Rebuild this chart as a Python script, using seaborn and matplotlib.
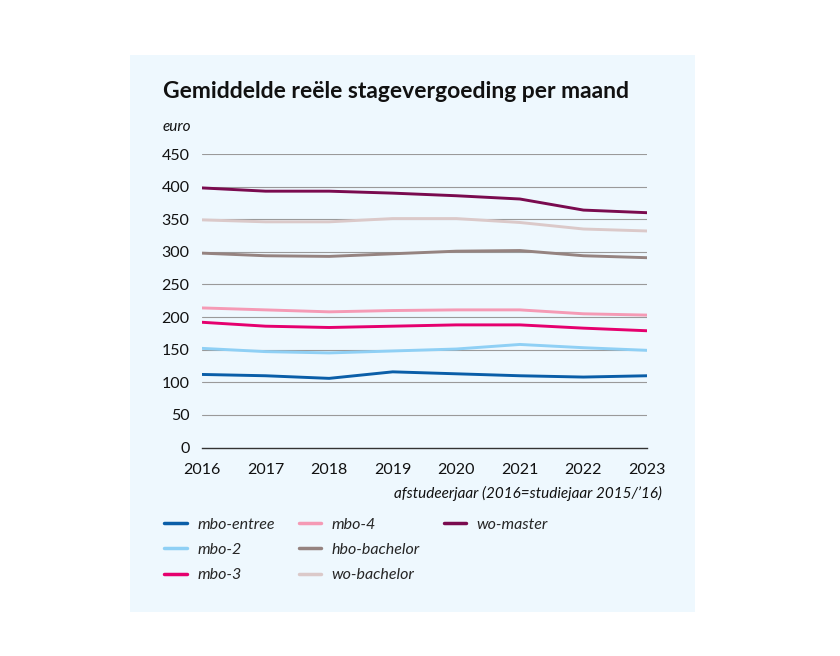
import matplotlib.pyplot as plt
import seaborn as sns
import pandas as pd

sns.set_theme(style="white")
plt.rcParams["font.family"] = ["Lato", "DejaVu Sans"]

years = [2016, 2017, 2018, 2019, 2020, 2021, 2022, 2023]

mbo_entree = [112, 110, 106, 116, 113, 110, 108, 110]
mbo_2 = [152, 147, 145, 148, 151, 158, 153, 149]
mbo_3 = [192, 186, 184, 186, 188, 188, 183, 179]
mbo_4 = [214, 211, 208, 210, 211, 211, 205, 203]
hbo_bachelor = [298, 294, 293, 297, 301, 302, 294, 291]
wo_bachelor = [349, 346, 346, 351, 351, 345, 335, 332]
wo_master = [398, 393, 393, 390, 386, 381, 364, 360]

series = {
    "mbo-entree": mbo_entree,
    "mbo-2": mbo_2,
    "mbo-3": mbo_3,
    "mbo-4": mbo_4,
    "hbo-bachelor": hbo_bachelor,
    "wo-bachelor": wo_bachelor,
    "wo-master": wo_master,
}

colors = {
    "mbo-entree": "#0a5ea8",
    "mbo-2": "#8fd0f5",
    "mbo-3": "#e5006e",
    "mbo-4": "#f59ab5",
    "hbo-bachelor": "#958380",
    "wo-bachelor": "#dbc9c9",
    "wo-master": "#7a0b4f",
}

rows = []
for name, vals in series.items():
    for y, v in zip(years, vals):
        rows.append({"jaar": y, "euro": v, "groep": name})
df = pd.DataFrame(rows)

fig = plt.figure(figsize=(8.4, 6.56), dpi=100)
fig.patch.set_facecolor("white")

# light blue panel behind the chart
bg = fig.add_axes([130 / 840, 1 - 612 / 656, 565 / 840, 557 / 656], zorder=-1)
bg.set_facecolor("#eef8fe")
bg.set_xticks([])
bg.set_yticks([])
for s in bg.spines.values():
    s.set_visible(False)

ax = fig.add_axes([202 / 840, 1 - 447.5 / 656, 445 / 840, 293.5 / 656])
ax.set_facecolor("none")

for val in range(50, 451, 50):
    ax.axhline(val, color="#9a9a9a", lw=0.8, zorder=1)

sns.lineplot(data=df, x="jaar", y="euro", hue="groep", palette=colors,
             hue_order=list(series.keys()), linewidth=2.1, ax=ax,
             legend=False, zorder=3)
for line in ax.lines:
    line.set_solid_joinstyle("round")
    line.set_solid_capstyle("round")

ax.set_xlim(2016, 2023)
ax.set_ylim(0, 450)
ax.set_xticks(years)
ax.set_yticks(range(0, 451, 50))
ax.set_xlabel("")
ax.set_ylabel("")
for s in ["top", "right", "left"]:
    ax.spines[s].set_visible(False)
ax.spines["bottom"].set_color("#333333")
ax.spines["bottom"].set_linewidth(1.0)
ax.tick_params(axis="x", direction="out", length=7, width=0.8,
               color="#333333", labelsize=11.5, pad=4, labelcolor="#111111")
ax.tick_params(axis="y", length=0, labelsize=11.5, pad=9, labelcolor="#111111")

fig.text(163 / 840, 1 - 92 / 656, "Gemiddelde reële stagevergoeding per maand",
         fontsize=16.5, fontweight="bold", va="center", ha="left", color="#111111")
fig.text(163 / 840, 1 - 127 / 656, "euro", fontsize=11, style="italic",
         va="center", ha="left", color="#111111")
fig.text(662 / 840, 1 - 493 / 656, "afstudeerjaar (2016=studiejaar 2015/\u201916)",
         fontsize=11, style="italic", va="center", ha="right", color="#111111")

handles = [plt.Line2D([], [], color=colors[n], lw=2.5) for n in series]
labels = list(series.keys())
handles.insert(7, plt.Line2D([], [], color="none"))
labels.insert(7, "")
handles.insert(8, plt.Line2D([], [], color="none"))
labels.insert(8, "")
leg = fig.legend(handles, labels, ncol=3, loc="upper left",
                 bbox_to_anchor=(150 / 840, 1 - 503 / 656), frameon=False,
                 handlelength=1.4, handletextpad=0.65, columnspacing=1.5,
                 labelspacing=0.7, prop={"size": 11.5, "style": "italic"})

fig.savefig("out.png", dpi=100)
